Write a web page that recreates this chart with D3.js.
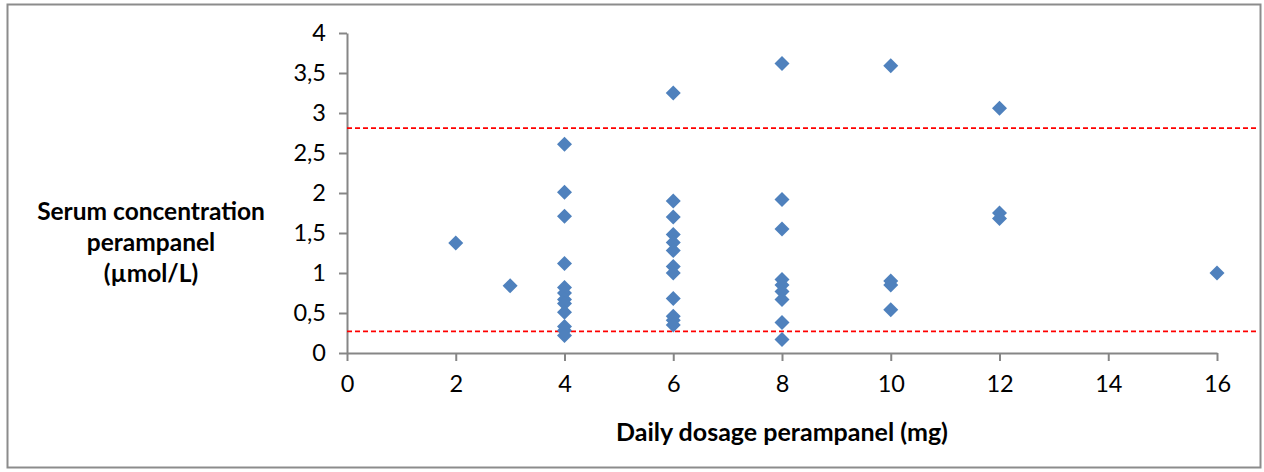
<!DOCTYPE html>
<html><head><meta charset="utf-8">
<script src="https://cdn.jsdelivr.net/npm/d3@7"></script>
<style>body{margin:0;background:#fff}svg{display:block}</style>
</head><body><svg id="c" width="1264" height="472"></svg>
<script>
const xTicks = [0,2,4,6,8,10,12,14,16];
const yTicks = [0,0.5,1,1.5,2,2.5,3,3.5,4];
const dose = [2,3,4,4,4,4,4,4,4,4,4,4,4,4,6,6,6,6,6,6,6,6,6,6,6,6,8,8,8,8,8,8,8,8,8,10,10,10,10,12,12,12,16];
const conc = [1.375,0.84,2.61,2.01,1.71,1.12,0.82,0.75,0.67,0.62,0.51,0.33,0.28,0.22,
  3.25,1.9,1.7,1.48,1.38,1.28,1.08,1.0,0.68,0.46,0.41,0.35,
  3.62,1.92,1.55,0.92,0.85,0.77,0.67,0.38,0.17,
  3.59,0.9,0.85,0.54,3.06,1.75,1.68,1.0];
const refLines = [2.81,0.27];
const xTitle = "Daily dosage perampanel (mg)";
const yTitle = ["Serum concentration","perampanel","(µmol/L)"];

const svg = d3.select("#c");
const font = "Lato, Open Sans, sans-serif";
svg.append("rect").attr("x",7.5).attr("y",4.5).attr("width",1253).attr("height",463)
  .attr("fill","#fff").attr("stroke","#8c8c8c").attr("stroke-width",2);
const x = d3.scaleLinear().domain([0,16]).range([347,1217]);
const y = d3.scaleLinear().domain([0,4]).range([353,33]);
const axisColor = "#868686";

const gx = svg.append("g").attr("transform","translate(0,353)")
  .call(d3.axisBottom(x).tickValues(xTicks).tickSize(8).tickSizeOuter(0).tickPadding(14).tickFormat(d=>d));
const gy = svg.append("g").attr("transform","translate(347,0)")
  .call(d3.axisLeft(y).tickValues(yTicks).tickSize(8).tickSizeOuter(0).tickPadding(13)
    .tickFormat(d=>String(d).replace(".",",")));
[gx,gy].forEach(g=>{
  g.selectAll("path,line").attr("stroke",axisColor).attr("stroke-width",2);
  g.selectAll("text").attr("font-family",font).attr("font-size",23.5).attr("fill","#000");
});

svg.selectAll("line.ref").data(refLines).join("line").attr("class","ref")
  .attr("x1",347).attr("x2",1258).attr("y1",d=>y(d)).attr("y2",d=>y(d))
  .attr("stroke","#ff0000").attr("stroke-width",1.8).attr("stroke-dasharray","5,3");

const pts = dose.map((d,i)=>({d,c:conc[i]}));
const h = 7.5;
svg.selectAll("path.pt").data(pts).join("path").attr("class","pt")
  .attr("d",p=>{const cx=x(p.d), cy=y(p.c);return `M${cx},${cy-h}L${cx+h},${cy}L${cx},${cy+h}L${cx-h},${cy}Z`;})
  .attr("fill","#4f81bd");

svg.append("text").attr("x",782).attr("y",441).attr("text-anchor","middle")
  .attr("font-family",font).attr("font-weight","bold").attr("font-size",25).text(xTitle);
svg.selectAll("text.yt").data(yTitle).join("text").attr("class","yt")
  .attr("x",151).attr("y",(d,i)=>220+i*31).attr("text-anchor","middle")
  .attr("font-family",font).attr("font-weight","bold").attr("font-size",24.5).text(d=>d);
</script></body></html>
